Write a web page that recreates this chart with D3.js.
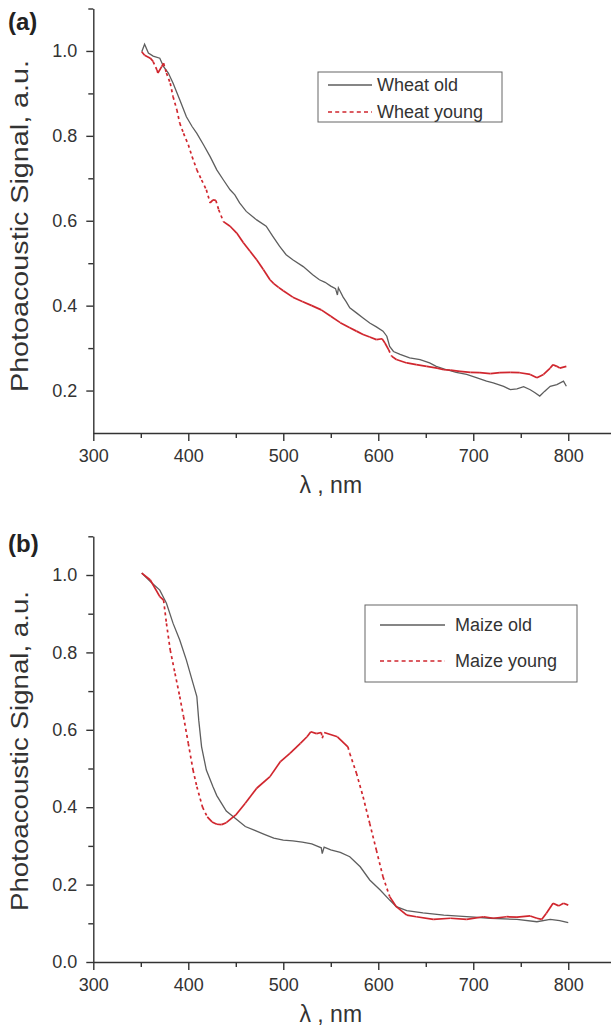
<!DOCTYPE html>
<html lang="en">
<head>
<meta charset="UTF-8">
<title>Photoacoustic spectra</title>
<script src="https://d3js.org/d3.v7.min.js"></script>
<style>
  body { margin: 0; background: #fff; font-family: 'Liberation Sans', Arial, sans-serif; }
  svg { display: block; }
  .axis path, .axis line { stroke: #333; stroke-width: 1.4; }
  .axis text { font-size: 18px; fill: #333; font-family: 'Liberation Sans', Arial, sans-serif; }
  .title { font-size: 23px; fill: #333; }
  .panel { font-size: 24px; font-weight: bold; fill: #222; }
  .legend text { font-size: 18px; fill: #333; }
</style>
</head>
<body>
<svg width="611" height="1027"></svg>
<script>
// x ticks (nm), shared by both panels
const xMajor = [300, 400, 500, 600, 700, 800];
const xMinor = [350, 450, 550, 650, 750];

// (a) wheat
const wheatYMajor = [0.2, 0.4, 0.6, 0.8, 1.0];
const wheatYMinor = [0.3, 0.5, 0.7, 0.9, 1.1];
const wheatNames = ['Wheat old', 'Wheat young'];
const wheatOld = [
  [351, 0.998], [354, 1.016], [358, 0.995], [363, 0.988], [370, 0.983], [374, 0.963],
  [379, 0.948], [384, 0.924], [391, 0.885], [398, 0.845], [404, 0.822], [409, 0.806],
  [416, 0.779], [423, 0.751], [430, 0.72], [437, 0.696], [444, 0.673], [449, 0.661],
  [454, 0.642], [461, 0.622], [472, 0.602], [482, 0.587], [489, 0.563], [496, 0.54],
  [503, 0.52], [510, 0.508], [521, 0.492], [531, 0.473], [538, 0.461], [544, 0.455],
  [550, 0.446], [555, 0.44], [557, 0.425], [558, 0.442], [563, 0.42], [566, 0.41],
  [570, 0.395], [577, 0.383], [584, 0.371], [591, 0.359], [598, 0.35], [605, 0.34],
  [609, 0.328], [612, 0.304], [616, 0.292], [623, 0.285], [633, 0.277], [644, 0.273],
  [654, 0.265], [661, 0.257], [672, 0.249], [682, 0.243], [693, 0.238], [704, 0.23],
  [714, 0.222], [721, 0.218], [732, 0.21], [739, 0.202], [746, 0.204], [753, 0.209],
  [760, 0.202], [765, 0.195], [770, 0.187], [775, 0.198], [781, 0.21], [788, 0.214],
  [795, 0.222], [798, 0.21]
];
const wheatYoung = [
  [351, 0.998], [354, 0.99], [360, 0.983], [363, 0.975], [367, 0.955], [368, 0.948],
  [372, 0.963], [374, 0.971], [377, 0.948], [381, 0.924], [384, 0.892], [388, 0.861],
  [391, 0.83], [395, 0.806], [400, 0.779], [404, 0.751], [409, 0.72], [414, 0.696],
  [419, 0.673], [423, 0.642], [426, 0.649], [429, 0.648], [432, 0.626], [437, 0.598],
  [444, 0.587], [451, 0.571], [458, 0.548], [465, 0.528], [472, 0.508], [479, 0.485],
  [486, 0.461], [490, 0.452], [495, 0.443], [500, 0.435], [510, 0.42], [520, 0.41],
  [530, 0.4], [540, 0.39], [550, 0.375], [560, 0.36], [570, 0.348], [577, 0.34],
  [584, 0.332], [591, 0.326], [598, 0.32], [604, 0.322], [607, 0.312], [611, 0.296],
  [614, 0.281], [619, 0.273], [630, 0.265], [640, 0.261], [651, 0.257], [662, 0.253],
  [669, 0.249], [676, 0.248], [686, 0.245], [697, 0.243], [707, 0.242], [718, 0.24],
  [728, 0.242], [739, 0.243], [749, 0.242], [760, 0.238], [767, 0.23], [774, 0.238],
  [781, 0.253], [784, 0.261], [788, 0.257], [791, 0.253], [798, 0.257]
];

// (b) maize
const maizeYMajor = [0.0, 0.2, 0.4, 0.6, 0.8, 1.0];
const maizeYMinor = [0.1, 0.3, 0.5, 0.7, 0.9, 1.1];
const maizeNames = ['Maize old', 'Maize young'];
const maizeOld = [
  [351, 1.005], [360, 0.983], [370, 0.961], [377, 0.927], [384, 0.875], [391, 0.832],
  [398, 0.78], [405, 0.72], [409, 0.686], [411, 0.625], [414, 0.556], [419, 0.496],
  [426, 0.453], [430, 0.43], [435, 0.41], [440, 0.39], [450, 0.37], [460, 0.35],
  [470, 0.34], [480, 0.33], [490, 0.32], [500, 0.315], [510, 0.313], [520, 0.31],
  [530, 0.305], [535, 0.3], [540, 0.295], [541, 0.28], [543, 0.297], [550, 0.29],
  [560, 0.283], [570, 0.272], [581, 0.246], [591, 0.212], [602, 0.186], [612, 0.16],
  [619, 0.143], [630, 0.133], [647, 0.127], [669, 0.121], [693, 0.117], [718, 0.113],
  [746, 0.11], [767, 0.104], [781, 0.11], [791, 0.107], [800, 0.102]
];
const maizeYoung = [
  [351, 1.005], [360, 0.987], [370, 0.944], [374, 0.935], [377, 0.875], [381, 0.806],
  [386, 0.746], [391, 0.686], [395, 0.634], [400, 0.565], [405, 0.496], [409, 0.453],
  [415, 0.4], [420, 0.375], [425, 0.362], [430, 0.356], [435, 0.355], [440, 0.36],
  [450, 0.38], [460, 0.41], [472, 0.449], [486, 0.479], [497, 0.518], [507, 0.539],
  [518, 0.565], [525, 0.582], [529, 0.595], [535, 0.59], [540, 0.593], [541, 0.578],
  [543, 0.593], [557, 0.582], [568, 0.556], [570, 0.539], [577, 0.488], [584, 0.427],
  [591, 0.358], [598, 0.289], [605, 0.22], [612, 0.169], [619, 0.143], [630, 0.121],
  [640, 0.117], [658, 0.11], [676, 0.113], [693, 0.11], [711, 0.117], [721, 0.113],
  [735, 0.117], [746, 0.116], [760, 0.119], [767, 0.113], [772, 0.11], [777, 0.126],
  [784, 0.152], [790, 0.145], [795, 0.152], [800, 0.147]
];

const oldColor = '#5e5e5e';
const youngColor = '#d0262e';

const svg = d3.select('svg');

function drawPanel(p) {
  const x = d3.scaleLinear().domain([300, 845]).range([93.3, 611]);
  const y = d3.scaleLinear().domain(p.yDomain).range(p.yRange);
  const g = svg.append('g');

  // minor ticks first, then major axes with labels
  g.append('g').attr('class', 'axis')
    .attr('transform', `translate(0,${p.yRange[0]})`)
    .call(d3.axisBottom(x).tickValues(xMinor).tickSize(5).tickFormat(''))
    .call(a => a.select('.domain').remove());
  g.append('g').attr('class', 'axis')
    .attr('transform', `translate(0,${p.yRange[0]})`)
    .call(d3.axisBottom(x).tickValues(xMajor).tickSize(8).tickSizeOuter(0).tickPadding(8).tickFormat(d3.format('d')));

  g.append('g').attr('class', 'axis')
    .attr('transform', 'translate(93.3,0)')
    .call(d3.axisLeft(y).tickValues(p.yMinor).tickSize(5).tickFormat(''))
    .call(a => a.select('.domain').remove());
  g.append('g').attr('class', 'axis')
    .attr('transform', 'translate(93.3,0)')
    .call(d3.axisLeft(y).tickValues(p.yMajor).tickSize(7).tickSizeOuter(0).tickPadding(9).tickFormat(d3.format('.1f')));

  // axis titles
  g.append('text').attr('class', 'title')
    .attr('x', x(550)).attr('y', p.yRange[0] + 60)
    .attr('text-anchor', 'middle').text('λ , nm');
  g.append('text').attr('class', 'title')
    .attr('transform', `translate(28,${p.titleMid}) rotate(-90)`)
    .attr('text-anchor', 'middle')
    .attr('textLength', p.titleLen).attr('lengthAdjust', 'spacingAndGlyphs')
    .text('Photoacoustic Signal, a.u.');
  g.append('text').attr('class', 'panel')
    .attr('x', 8).attr('y', p.labelY).text(p.label);

  const line = d3.line().x(d => x(d[0])).y(d => y(d[1]));

  g.append('path').datum(p.old)
    .attr('fill', 'none').attr('stroke', oldColor).attr('stroke-width', 1.3)
    .attr('d', line);

  // young series: steep stretches drawn dashed, flat ones solid
  const segs = d3.pairs(p.young);
  g.selectAll('.yseg').data(segs).join('path')
    .attr('class', 'yseg')
    .attr('fill', 'none').attr('stroke', youngColor).attr('stroke-width', 1.7)
    .attr('stroke-dasharray', s => {
      const dx = Math.abs(x(s[1][0]) - x(s[0][0]));
      const dy = Math.abs(y(s[1][1]) - y(s[0][1]));
      return dy / dx > 1.9 ? '3,3.2' : null;
    })
    .attr('d', s => line(s));

  // legend
  const lg = g.append('g').attr('class', 'legend');
  const L = p.legend;
  lg.append('rect').attr('x', L.x).attr('y', L.y).attr('width', L.w).attr('height', L.h)
    .attr('fill', '#fff').attr('stroke', '#666').attr('stroke-width', 1);
  p.names.forEach((n, i) => {
    const ly = L.y + L.rows[i];
    lg.append('line').attr('x1', L.lx1).attr('x2', L.lx2).attr('y1', ly).attr('y2', ly)
      .attr('stroke', i ? youngColor : oldColor).attr('stroke-width', i ? 1.6 : 1.3)
      .attr('stroke-dasharray', i ? '4,3.2' : null);
    lg.append('text').attr('x', L.tx).attr('y', ly + 6).text(n);
  });
}

drawPanel({
  yDomain: [0.1, 1.1], yRange: [433, 8.5],
  yMajor: wheatYMajor, yMinor: wheatYMinor,
  old: wheatOld, young: wheatYoung, names: wheatNames,
  label: '(a)', labelY: 30, titleMid: 226, titleLen: 332,
  legend: { x: 318, y: 72, w: 184, h: 50, rows: [13, 40], lx1: 328, lx2: 372, tx: 377 }
});

drawPanel({
  yDomain: [0, 1.1], yRange: [962, 536.3],
  yMajor: maizeYMajor, yMinor: maizeYMinor,
  old: maizeOld, young: maizeYoung, names: maizeNames,
  label: '(b)', labelY: 552, titleMid: 751, titleLen: 320,
  legend: { x: 365, y: 605, w: 212, h: 77, rows: [20, 56], lx1: 380, lx2: 445, tx: 455 }
});
</script>
</body>
</html>
